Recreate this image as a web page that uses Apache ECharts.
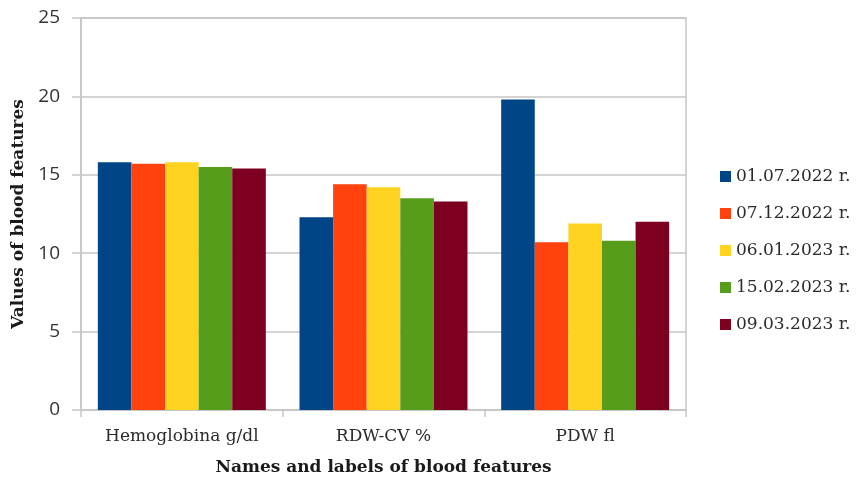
<!DOCTYPE html>
<html>
<head>
<meta charset="utf-8">
<script src="https://cdn.jsdelivr.net/npm/echarts@6/dist/echarts.min.js"></script>
<style>
  html, body { margin: 0; padding: 0; background: #ffffff; }
  #chart { width: 858px; height: 482px; }
</style>
</head>
<body>
<div id="chart"></div>
<script>
// Blood features measured on five dates
const categories = ['Hemoglobina g/dl', 'RDW-CV %', 'PDW fl'];
const seriesNames = ['01.07.2022 r.', '07.12.2022 r.', '06.01.2023 r.', '15.02.2023 r.', '09.03.2023 r.'];
const d20220701 = [15.8, 12.3, 19.8];
const d20221207 = [15.7, 14.4, 10.7];
const d20230106 = [15.8, 14.2, 11.9];
const d20230215 = [15.5, 13.5, 10.8];
const d20230309 = [15.4, 13.3, 12.0];
const seriesValues = [d20220701, d20221207, d20230106, d20230215, d20230309];
const colors = ['#004586', '#ff420e', '#ffd320', '#579d1c', '#7e0021'];

const serif = '"DejaVu Serif", serif';
const gridColor = '#c6c6c6';

const chart = echarts.init(document.getElementById('chart'), null, { renderer: 'canvas' });

chart.setOption({
  animation: false,
  color: colors,
  grid: {
    left: 81, right: 172, top: 18, bottom: 72,
    show: true, borderColor: gridColor, borderWidth: 1.5, backgroundColor: 'transparent'
  },
  legend: {
    orient: 'vertical',
    left: 720, top: 168,
    padding: 0,
    itemWidth: 11, itemHeight: 11, itemGap: 20,
    icon: 'rect',
    data: seriesNames,
    textStyle: { fontFamily: serif, fontSize: 17, lineHeight: 17, color: '#2b2b2b' }
  },
  xAxis: {
    type: 'category',
    data: categories,
    name: 'Names and labels of blood features',
    nameLocation: 'middle',
    nameGap: 49,
    nameTextStyle: { fontFamily: serif, fontSize: 17, fontWeight: 'bold', color: '#1a1a1a' },
    axisLine: { lineStyle: { color: gridColor, width: 1.5 } },
    axisTick: { show: true, length: 7, lineStyle: { color: gridColor, width: 1.5 } },
    axisLabel: { margin: 18, fontFamily: serif, fontSize: 17, color: '#2b2b2b' }
  },
  yAxis: {
    type: 'value',
    min: 0, max: 25, interval: 5,
    name: 'Values of blood features',
    nameLocation: 'middle',
    nameGap: 50,
    nameTextStyle: { fontFamily: serif, fontSize: 17, fontWeight: 'bold', color: '#1a1a1a' },
    axisLine: { show: true, lineStyle: { color: gridColor, width: 1.5 } },
    axisTick: { show: true, length: 9, lineStyle: { color: gridColor, width: 1.5 } },
    splitLine: { lineStyle: { color: gridColor, width: 1.5 } },
    axisLabel: { margin: 21, fontFamily: '"Open Sans", sans-serif', fontSize: 19, color: '#333333' }
  },
  series: seriesNames.map((name, i) => ({
    name: name,
    type: 'bar',
    data: seriesValues[i],
    barGap: '0%',
    barCategoryGap: '16.7%',
    itemStyle: { color: colors[i] }
  }))
});
</script>
</body>
</html>
